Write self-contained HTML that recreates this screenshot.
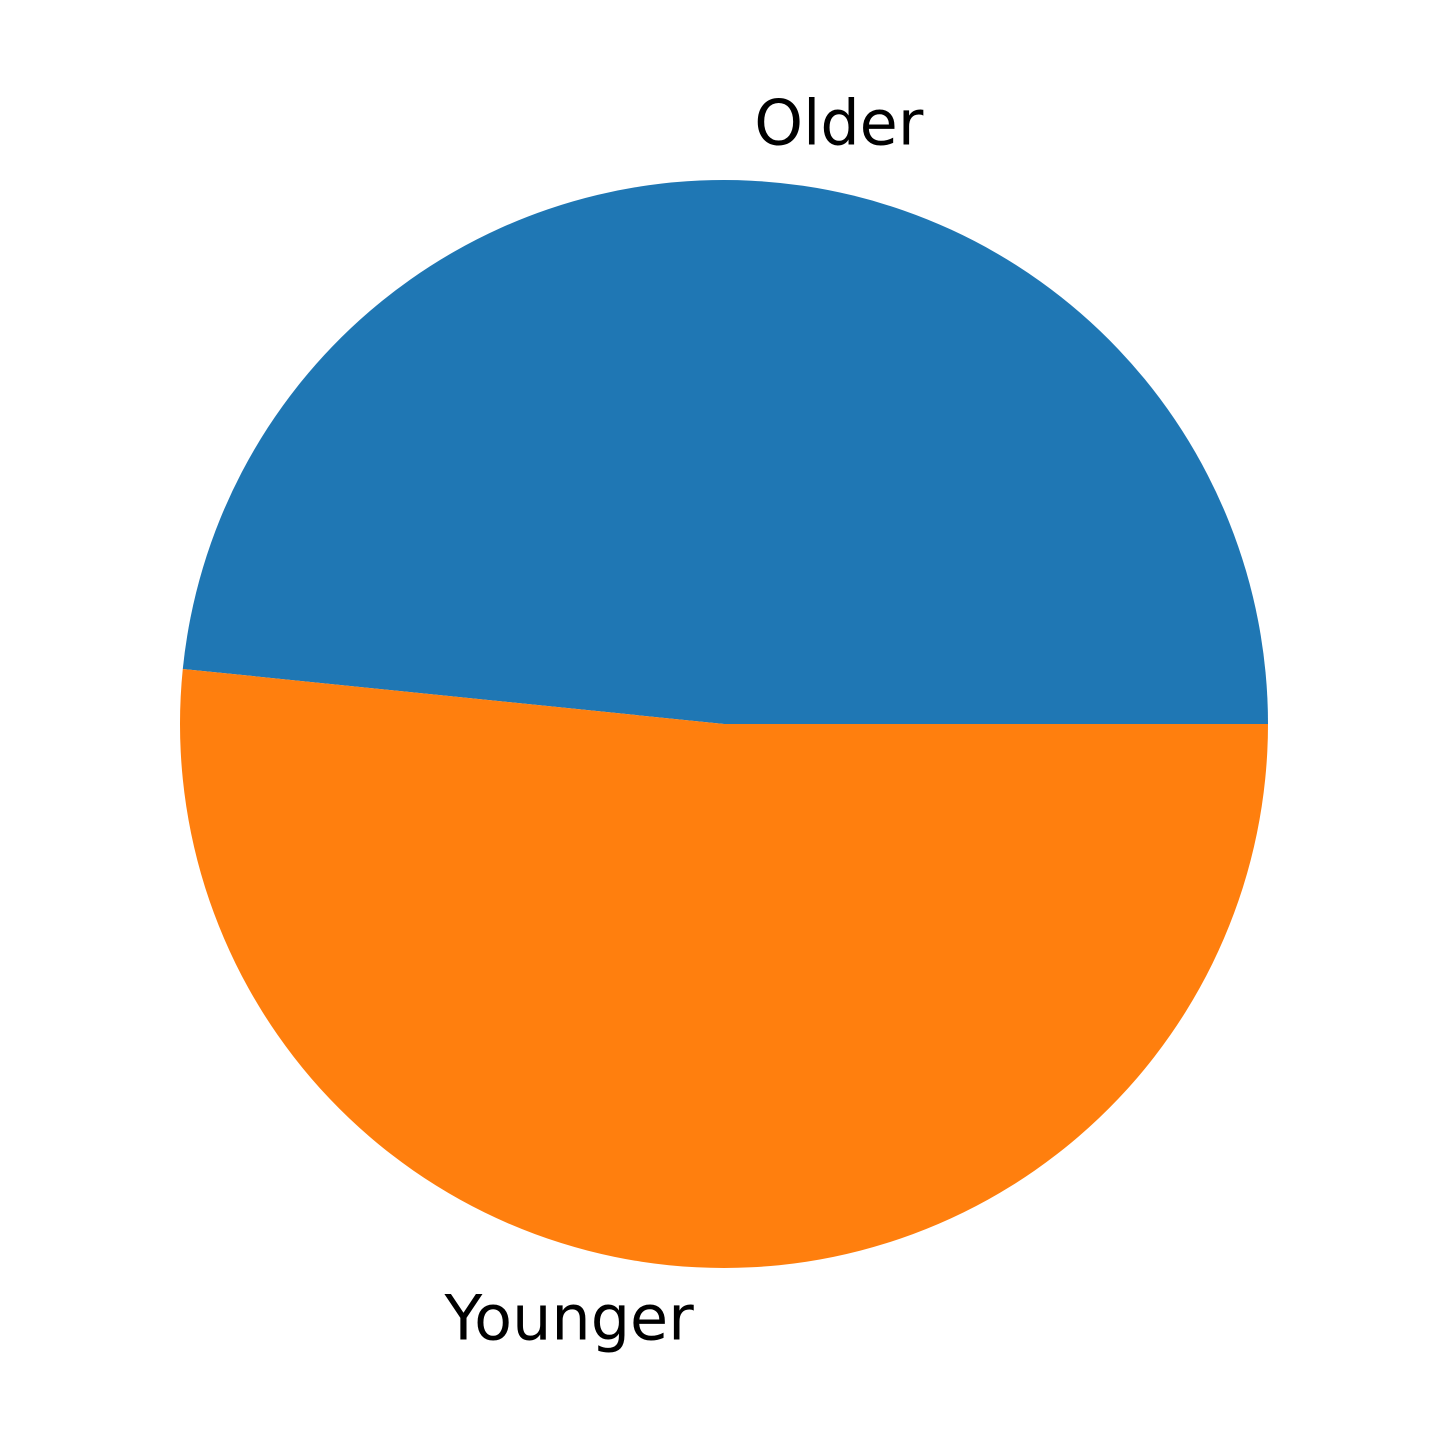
<!DOCTYPE html>
<html><head><meta charset="utf-8"><style>
html,body{margin:0;padding:0;background:#fff;}
svg{display:block;}
</style></head><body>
<svg id="chart" width="1449" height="1449" viewBox="0 0 1449 1449" xmlns="http://www.w3.org/2000/svg">
<rect width="1449" height="1449" fill="#fff"/>
</svg>
<script>
const labels = ["Older", "Younger"];
const values = [15, 16];
const colors = ["#1f77b4", "#ff7f0e"];

const svg = document.getElementById('chart');
const NS = 'http://www.w3.org/2000/svg';
const cx = 724, cy = 724, r = 544;
const total = values.reduce((a, b) => a + b, 0);
let start = 0;
values.forEach((v, i) => {
  const sweep = v / total * 360;
  const a0 = start * Math.PI / 180, a1 = (start + sweep) * Math.PI / 180;
  const x0 = cx + r * Math.cos(a0), y0 = cy - r * Math.sin(a0);
  const x1 = cx + r * Math.cos(a1), y1 = cy - r * Math.sin(a1);
  const large = sweep > 180 ? 1 : 0;
  const p = document.createElementNS(NS, 'path');
  p.setAttribute('d', `M${cx},${cy} L${x0},${y0} A${r},${r} 0 ${large} 0 ${x1},${y1} Z`);
  p.setAttribute('fill', colors[i]);
  
  
  svg.appendChild(p);
  const mid = (start + sweep / 2) * Math.PI / 180;
  const lx = cx + 1.1 * r * Math.cos(mid), ly = cy - 1.1 * r * Math.sin(mid);
  const t = document.createElementNS(NS, 'text');
  t.setAttribute('x', lx);
  t.setAttribute('y', ly + 18);
  t.setAttribute('font-family', '"DejaVu Sans", "Liberation Sans", sans-serif');
  t.setAttribute('font-size', '62');
  t.setAttribute('fill', '#000');
  t.setAttribute('text-anchor', Math.cos(mid) >= 0 ? 'start' : 'end');
  t.textContent = labels[i];
  
  
  svg.appendChild(t);
  start += sweep;
});
</script>
</body></html>
